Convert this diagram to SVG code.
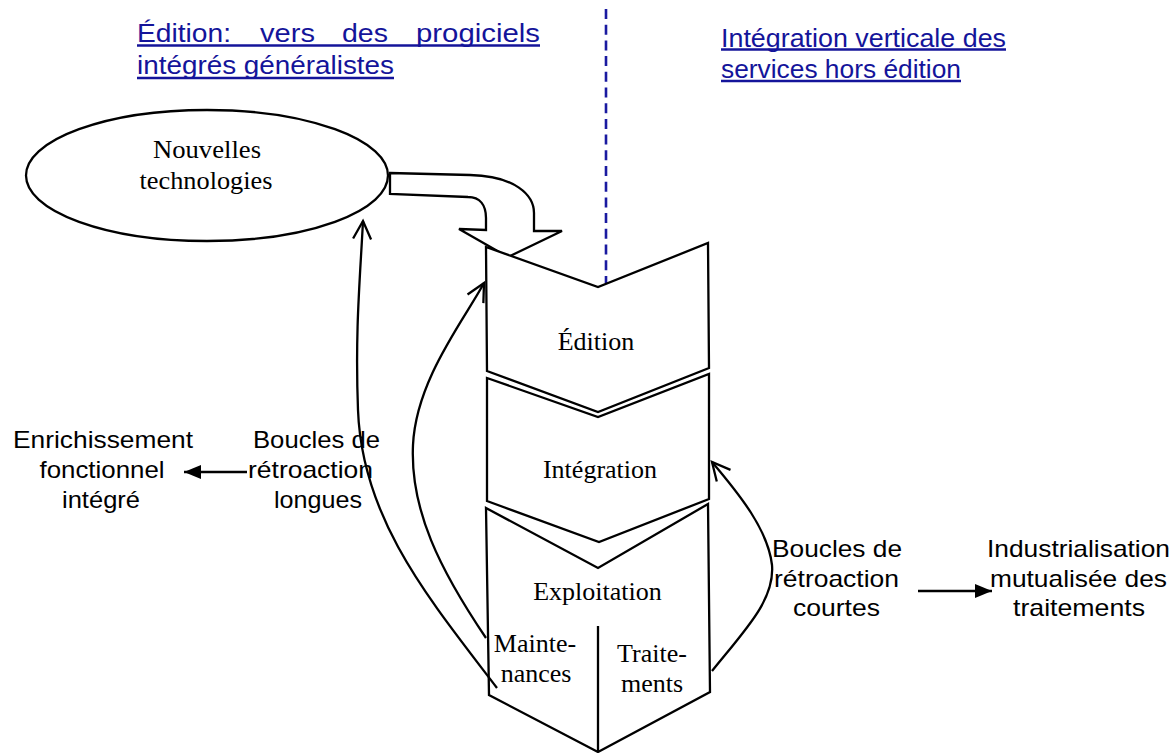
<svg xmlns="http://www.w3.org/2000/svg" width="1173" height="753" viewBox="0 0 1173 753">
<style>
.title{font-family:"Liberation Sans",Arial,sans-serif;font-size:25px;fill:#14149a}
.ul{stroke:#14149a;stroke-width:2.4}
.lbl{font-family:"Liberation Sans",Arial,sans-serif;font-size:24px;fill:#000;text-anchor:middle}
.ser{font-family:"Liberation Serif","Times New Roman",serif;font-size:26px;fill:#000;text-anchor:middle}
.shape{fill:#fff;stroke:#000;stroke-width:2.3;stroke-linejoin:miter}
.conn{fill:none;stroke:#000;stroke-width:2.3}
</style>
<defs>
<marker id="open" markerUnits="userSpaceOnUse" markerWidth="24" markerHeight="24" viewBox="-20 -12 24 24" refX="0" refY="0" orient="auto">
<path d="M-18,-9 L0,0 L-18,9" fill="none" stroke="#000" stroke-width="2.3"/>
</marker>
<marker id="solid" markerUnits="userSpaceOnUse" markerWidth="24" markerHeight="20" viewBox="-18 -10 20 20" refX="0" refY="0" orient="auto">
<path d="M-17,-7 L0,0 L-17,7 Z" fill="#000"/>
</marker>
</defs>

<g id="title-left">
<text class="title" x="137" y="41.5" textLength="94" lengthAdjust="spacingAndGlyphs">Édition:</text>
<text class="title" x="260" y="41.5" textLength="55" lengthAdjust="spacingAndGlyphs">vers</text>
<text class="title" x="342" y="41.5" textLength="46" lengthAdjust="spacingAndGlyphs">des</text>
<text class="title" x="416" y="41.5" textLength="124" lengthAdjust="spacingAndGlyphs">progiciels</text>
<text class="title" x="137" y="73.5" textLength="257" lengthAdjust="spacingAndGlyphs">intégrés généralistes</text>
<line class="ul" x1="137" y1="45.5" x2="540" y2="45.5"/>
<line class="ul" x1="137" y1="78" x2="394" y2="78"/>
</g>

<g id="title-right">
<text class="title" x="721" y="46.5" textLength="285" lengthAdjust="spacingAndGlyphs">Intégration verticale des</text>
<text class="title" x="721" y="77.5" textLength="240" lengthAdjust="spacingAndGlyphs">services hors édition</text>
<line class="ul" x1="721" y1="49.5" x2="1006" y2="49.5"/>
<line class="ul" x1="721" y1="81" x2="961" y2="81"/>
</g>

<g id="divider">
<line x1="606" y1="9" x2="606" y2="283" stroke="#1a1aa0" stroke-width="2.6" stroke-dasharray="10 5.7"/>
</g>

<g id="nouvelles-technologies">
<ellipse class="shape" cx="207" cy="175.5" rx="181" ry="65.5" stroke-width="2.6"/>
<text class="ser" x="207" y="158" textLength="108" lengthAdjust="spacingAndGlyphs">Nouvelles</text>
<text class="ser" x="206" y="189" textLength="133" lengthAdjust="spacingAndGlyphs">technologies</text>
</g>

<g id="bent-arrow">
<path class="shape" d="M390,173 L470,175 C515,176 534,195 534,213 L534,231 L562,231 L508,257 L459,229 L486,230 L486,218 C486,205 480,197 468,197 L390,194 Z"/>
</g>

<g id="edition">
<polygon class="shape" points="486,247 598,287 708,243 709,368 598,412 487,371"/>
<text class="ser" x="596" y="350">Édition</text>
</g>

<g id="integration">
<polygon class="shape" points="487,378 598,417 709,374 709,499 599,542 487,501"/>
<text class="ser" x="600" y="478">Intégration</text>
</g>

<g id="exploitation">
<polygon class="shape" points="486,508 598,568 708,504 710,692 598,752 489,695"/>
<line class="conn" x1="598" y1="626" x2="598" y2="752"/>
<text class="ser" x="597.5" y="600">Exploitation</text>
<text class="ser" x="535" y="652">Mainte-</text>
<text class="ser" x="536" y="682">nances</text>
<text class="ser" x="652" y="662">Traite-</text>
<text class="ser" x="652" y="692">ments</text>
</g>

<g id="connectors">
<path class="conn" d="M497,688 C430,600 362,520 358,410 C355,330 360,280 363,221" marker-end="url(#open)"/>
<path class="conn" d="M486,638 C440,570 410,510 413,445 C416,380 464,320 484,283" marker-end="url(#open)"/>
<path class="conn" d="M712,671 C745,630 775,600 772,565 C768,530 740,495 712,462" marker-end="url(#open)"/>
<line class="conn" x1="247" y1="472" x2="184" y2="472" marker-end="url(#solid)"/>
<line class="conn" x1="918" y1="591" x2="992" y2="591" marker-end="url(#solid)"/>
</g>

<g id="label-long">
<text class="lbl" x="316.5" y="448" textLength="127" lengthAdjust="spacingAndGlyphs">Boucles de</text>
<text class="lbl" x="310.5" y="478" textLength="125" lengthAdjust="spacingAndGlyphs">rétroaction</text>
<text class="lbl" x="318" y="508" textLength="88" lengthAdjust="spacingAndGlyphs">longues</text>
</g>

<g id="enrichissement">
<text class="lbl" x="103" y="448" textLength="180" lengthAdjust="spacingAndGlyphs">Enrichissement</text>
<text class="lbl" x="102" y="478" textLength="125" lengthAdjust="spacingAndGlyphs">fonctionnel</text>
<text class="lbl" x="101" y="508" textLength="78" lengthAdjust="spacingAndGlyphs">intégré</text>
</g>

<g id="label-court">
<text class="lbl" x="837" y="557" textLength="130" lengthAdjust="spacingAndGlyphs">Boucles de</text>
<text class="lbl" x="836.5" y="586.5" textLength="125" lengthAdjust="spacingAndGlyphs">rétroaction</text>
<text class="lbl" x="836.5" y="616" textLength="87" lengthAdjust="spacingAndGlyphs">courtes</text>
</g>

<g id="industrialisation">
<text class="lbl" x="1078.5" y="556.5" textLength="183" lengthAdjust="spacingAndGlyphs">Industrialisation</text>
<text class="lbl" x="1078.5" y="586.5" textLength="177" lengthAdjust="spacingAndGlyphs">mutualisée des</text>
<text class="lbl" x="1079" y="616" textLength="132" lengthAdjust="spacingAndGlyphs">traitements</text>
</g>
</svg>
